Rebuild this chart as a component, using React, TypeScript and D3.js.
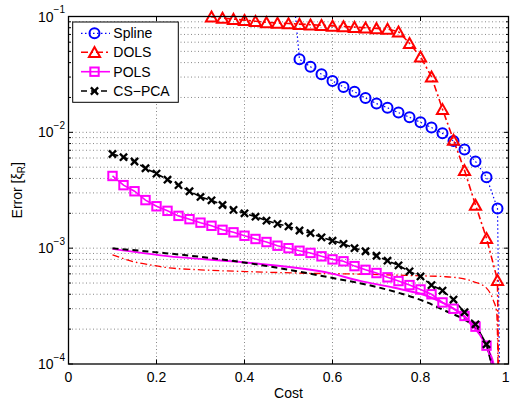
import React from 'react';
import * as d3 from 'd3';

const cost = [0.1, 0.125, 0.15, 0.175, 0.2, 0.225, 0.25, 0.275, 0.3, 0.325, 0.35, 0.375, 0.4, 0.425, 0.45, 0.475, 0.5, 0.525, 0.55, 0.575, 0.6, 0.625, 0.65, 0.675, 0.7, 0.725, 0.75, 0.775, 0.8, 0.825, 0.85, 0.875, 0.9, 0.925, 0.95, 0.975, 1.0];

const splineErr: (number | null)[] = [null, null, null, null, null, null, null, null, null, null, null, null, null, null, null, null,
  0.45, 0.0427, 0.0369, 0.0317, 0.0278, 0.0246, 0.0224, 0.0198, 0.0177, 0.0163, 0.0148, 0.0135, 0.0122, 0.0110, 0.0098, 0.0084, 0.0071, 0.0056, 0.0041, 0.0022, 1e-10];

const dolsErr: (number | null)[] = [null, null, null, null, null, null, null, null,
  0.13, 0.0995, 0.097, 0.095, 0.093, 0.091, 0.089, 0.088, 0.087, 0.086, 0.085, 0.084, 0.083, 0.082, 0.081, 0.080, 0.079, 0.078, 0.074, 0.0587, 0.045, 0.0302, 0.0158, 0.0086, 0.0047, 0.00236, 0.00122, 0.00053, 1e-12];

const polsErr: (number | null)[] = [0.0042, 0.0035, 0.0031, 0.0026, 0.0023, 0.0021, 0.0019, 0.00178, 0.00166, 0.00156, 0.00144, 0.00137, 0.00128, 0.0012, 0.00113, 0.00105, 0.001, 0.00095, 0.00091, 0.00085, 0.0008, 0.00077, 0.0007, 0.00065, 0.00061, 0.00056, 0.00052, 0.00048, 0.00044, 0.0004, 0.00034, 0.0003, 0.00026, 0.00021, 0.000144, 0.00007, null];

const csErr: (number | null)[] = [0.0065, 0.0061, 0.0056, 0.0049, 0.0044, 0.0039, 0.0035, 0.0031, 0.00277, 0.00259, 0.00236, 0.00214, 0.002, 0.00187, 0.00173, 0.00162, 0.00154, 0.00142, 0.00135, 0.00124, 0.00116, 0.00109, 0.001, 0.00094, 0.00086, 0.00078, 0.00071, 0.00063, 0.00057, 0.00048, 0.00043, 0.00036, 0.00028, 0.00022, 0.000148, 0.00006, null];

// reference curves without markers
const csRefX = [0.1, 0.22, 0.37, 0.48, 0.59, 0.68, 0.74, 0.81, 0.86, 0.9, 0.93, 0.95, 0.96, 0.975];
const csRefErr = [0.000996, 0.000906, 0.00078, 0.000672, 0.000562, 0.000482, 0.000422, 0.000346, 0.000284, 0.000241, 0.000197, 0.000142, 0.000109, 0.00004];

const polsRefX = [0.1, 0.22, 0.42, 0.594, 0.6625, 0.738, 0.814, 0.852, 0.89, 0.9125, 0.935, 0.954, 0.966, 0.975];
const polsRefErr = [0.000986, 0.000858, 0.000742, 0.000609, 0.000522, 0.000457, 0.000388, 0.000335, 0.000275, 0.000225, 0.000179, 0.000133, 0.0001, 0.00006];

const dolsRefX = [0.1, 0.147, 0.193, 0.223, 0.3, 0.405, 0.52, 0.68, 0.8, 0.85, 0.89, 0.92, 0.95, 0.965, 0.973, 0.978];
const dolsRefErr = [0.000875, 0.000766, 0.000708, 0.00068, 0.00065, 0.000628, 0.00061, 0.000595, 0.000577, 0.000569, 0.000551, 0.000515, 0.000452, 0.000358, 0.000282, 0.00003];

const xTicks = [0, 0.2, 0.4, 0.6, 0.8, 1];
const xTickLabels = ['0', '0.2', '0.4', '0.6', '0.8', '1'];
const yTicks = [1e-4, 1e-3, 1e-2, 1e-1];
const yTickExps = ['\u22124', '\u22123', '\u22122', '\u22121'];
const legendLabels = ['Spline', 'DOLS', 'POLS', 'CS\u2212PCA'];

const L = 68.5, R = 508.5, T = 16.5, B = 364;
const FONT = 'Liberation Sans, Arial, Helvetica, sans-serif';

const x = d3.scaleLinear().domain([0, 1]).range([L, R]);
const y = d3.scaleLog().domain([1e-4, 1e-1]).range([B, T]);

type Pt = { c: number; v: number | null };

function pts(xs: number[], vs: (number | null)[]): Pt[] {
  return xs.map((c, i) => ({ c, v: vs[i] }));
}

const lineGen = d3.line<Pt>().defined(d => d.v != null).x(d => x(d.c)).y(d => y(d.v as number));
const smoothGen = d3.line<Pt>().defined(d => d.v != null).x(d => x(d.c)).y(d => y(d.v as number)).curve(d3.curveMonotoneX);

function inside(d: Pt) {
  return d.v != null && d.v >= 1e-4 * 0.999 && d.v <= 0.1 * 1.001;
}

function Marker({ kind, cx, cy }: { kind: string; cx: number; cy: number }) {
  if (kind === 'o') return <circle cx={cx} cy={cy} r={5} fill="none" stroke="#0000ff" strokeWidth={2} />;
  if (kind === '^') return <polygon points={`${cx},${cy - 5.2} ${cx + 5.6},${cy + 4.8} ${cx - 5.6},${cy + 4.8}`} fill="none" stroke="#ff0000" strokeWidth={2} strokeLinejoin="miter" />;
  if (kind === 's') return <rect x={cx - 4.2} y={cy - 4.2} width={8.4} height={8.4} fill="none" stroke="#ff00ff" strokeWidth={2} />;
  return <g stroke="#000" strokeWidth={2.3}>
    <line x1={cx - 3.6} y1={cy - 3.6} x2={cx + 3.6} y2={cy + 3.6} />
    <line x1={cx - 3.6} y1={cy + 3.6} x2={cx + 3.6} y2={cy - 3.6} />
  </g>;
}

const series = [
  { name: legendLabels[0], data: pts(cost, splineErr), color: '#0000ff', dash: '1.5,2.5', width: 1.2, marker: 'o' },
  { name: legendLabels[1], data: pts(cost, dolsErr), color: '#ff0000', dash: '7,3,2,3', width: 1.6, marker: '^' },
  { name: legendLabels[2], data: pts(cost, polsErr), color: '#ff00ff', dash: undefined, width: 1.6, marker: 's' },
  { name: legendLabels[3], data: pts(cost, csErr), color: '#000000', dash: '6,4', width: 1.6, marker: 'x' },
];

const refs = [
  { data: pts(dolsRefX, dolsRefErr), color: '#ff0000', dash: '7,3,1.5,3', width: 1.3 },
  { data: pts(polsRefX, polsRefErr), color: '#ff00ff', dash: undefined, width: 2 },
  { data: pts(csRefX, csRefErr), color: '#000000', dash: '6,4', width: 2 },
];

export default function App() {
  const minor: number[] = [];
  [1e-4, 1e-3, 1e-2].forEach(dec => { for (let m = 2; m <= 9; m++) minor.push(dec * m); });
  const legX0 = 81, legX1 = 110, legMX = 94.5;
  const legY = [33.3, 52.3, 71.7, 91];

  return (
    <svg width={510} height={403} style={{ position: 'absolute', left: 0, top: 0, background: '#fff' }} fontFamily={FONT}>
      <defs>
        <clipPath id="plotclip"><rect x={L} y={T} width={R - L} height={B - T} /></clipPath>
      </defs>
      <rect x={0} y={0} width={510} height={403} fill="#fff" />
      <rect x={L} y={T} width={R - L} height={B - T} fill="#fff" />
      {/* grid */}
      <g stroke="#6a6a6a" strokeWidth={0.8} strokeDasharray="1,2.5">
        {xTicks.filter(t => t > 0 && t < 1).map(t => <line key={'gx' + t} x1={x(t)} x2={x(t)} y1={T} y2={B} />)}
        {minor.concat([1e-3, 1e-2]).map(v => <line key={'gy' + v} x1={L} x2={R} y1={y(v)} y2={y(v)} />)}
      </g>
      {/* ticks */}
      <g stroke="#000" strokeWidth={1}>
        {xTicks.map(t => <g key={'tx' + t}>
          <line x1={x(t)} x2={x(t)} y1={B} y2={B - 4.5} />
          <line x1={x(t)} x2={x(t)} y1={T} y2={T + 4.5} />
        </g>)}
        {yTicks.map(t => <g key={'ty' + t}>
          <line x1={L} x2={L + 4.5} y1={y(t)} y2={y(t)} />
          <line x1={R} x2={R - 4.5} y1={y(t)} y2={y(t)} />
        </g>)}
        {minor.map(t => <g key={'tm' + t}>
          <line x1={L} x2={L + 2.5} y1={y(t)} y2={y(t)} />
          <line x1={R} x2={R - 2.5} y1={y(t)} y2={y(t)} />
        </g>)}
      </g>
      {/* curves */}
      <g clipPath="url(#plotclip)" fill="none">
        {refs.map((r, i) => <path key={'ref' + i} d={smoothGen(r.data) || ''} stroke={r.color} strokeWidth={r.width} strokeDasharray={r.dash} />)}
        {series.map(s => <path key={'ln' + s.name} d={lineGen(s.data) || ''} stroke={s.color} strokeWidth={s.width} strokeDasharray={s.dash} />)}
      </g>
      {series.map(s => <g key={'mk' + s.name}>
        {s.data.filter(inside).map((d, i) => <Marker key={i} kind={s.marker} cx={x(d.c)} cy={y(d.v as number)} />)}
      </g>)}
      {/* axes box */}
      <rect x={L} y={T} width={R - L} height={B - T} fill="none" stroke="#000" strokeWidth={1.3} />
      {/* tick labels */}
      <g fontSize={14} fill="#000">
        {xTicks.map((t, i) => t === 1
          ? <text key={'xl' + t} x={509.5} y={382} textAnchor="end">{xTickLabels[i]}</text>
          : <text key={'xl' + t} x={x(t)} y={382} textAnchor="middle">{xTickLabels[i]}</text>)}
        {yTicks.map((t, i) => <text key={'yl' + t} x={65} y={y(t) + 5} textAnchor="end">10<tspan fontSize={10} dy={-8.5}>{yTickExps[i]}</tspan></text>)}
        <text x={(L + R) / 2} y={398} textAnchor="middle">Cost</text>
        <text transform={`translate(21.5,${(T + B) / 2}) rotate(-90)`} textAnchor="middle">Error [ξ<tspan fontSize={10} dy={3}>R</tspan><tspan dy={-3}>]</tspan></text>
      </g>
      {/* legend */}
      <rect x={72.7} y={22} width={105.6} height={80.3} fill="#fff" stroke="#000" strokeWidth={1} />
      {series.map((s, i) => <g key={'lg' + s.name}>
        <line x1={legX0} x2={legX1} y1={legY[i]} y2={legY[i]} stroke={s.color} strokeWidth={s.width} strokeDasharray={s.dash} />
        <Marker kind={s.marker} cx={legMX} cy={legY[i]} />
        <text x={113.3} y={legY[i] + 5} fontSize={14}>{s.name}</text>
      </g>)}
    </svg>
  );
}
